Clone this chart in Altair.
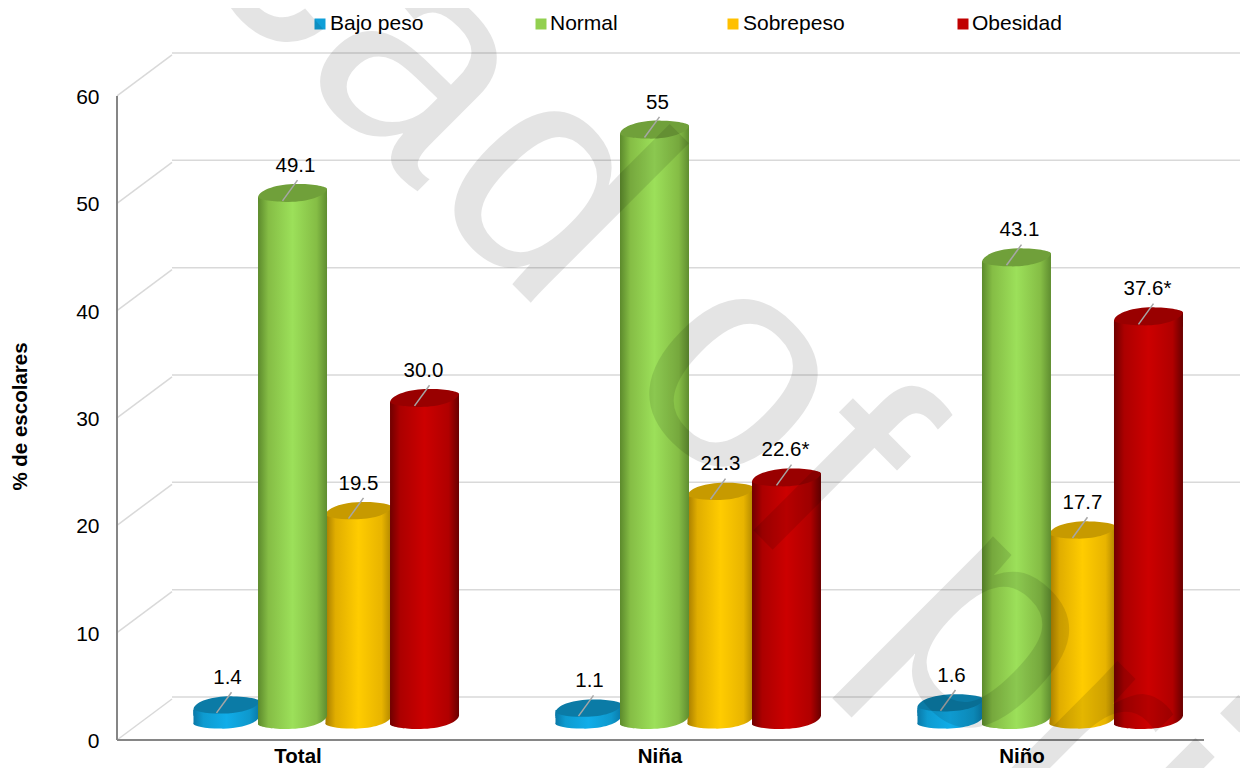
import altair as alt
import pandas as pd

groups = ["Total", "Niña", "Niño"]
series = ["Bajo peso", "Normal", "Sobrepeso", "Obesidad"]
values = {
    "Bajo peso": [1.4, 1.1, 1.6],
    "Normal": [49.1, 55.0, 43.1],
    "Sobrepeso": [19.5, 21.3, 17.7],
    "Obesidad": [30.0, 22.6, 37.6],
}
labels = {
    "Bajo peso": ["1.4", "1.1", "1.6"],
    "Normal": ["49.1", "55", "43.1"],
    "Sobrepeso": ["19.5", "21.3", "17.7"],
    "Obesidad": ["30.0", "22.6*", "37.6*"],
}
y_ticks = [0, 10, 20, 30, 40, 50, 60]
draw_order = ["Bajo peso", "Sobrepeso", "Normal", "Obesidad"]
widths = {"Bajo peso": 66, "Normal": 69, "Sobrepeso": 66, "Obesidad": 69}
label_dx = {"Bajo peso": 1, "Normal": 3, "Sobrepeso": 0, "Obesidad": -1}
shades = {
    "Bajo peso": (["#0a79a8", "#0e9bd0", "#10ade9", "#0e98cc", "#0a79a8"], "#0b7ba6", "#0f9fd8"),
    "Normal": (["#5c8a2c", "#85bd45", "#9ce05a", "#85bd45", "#5f8d30"], "#70a03a", "#92d050"),
    "Sobrepeso": (["#a67c00", "#e0ad00", "#ffcc00", "#e8b400", "#b08600"], "#c79a00", "#ffc000"),
    "Obesidad": (["#700000", "#ac0000", "#cc0000", "#b00000", "#680000"], "#990000", "#c00000"),
}
legend_x = {"Bajo peso": (197, 213), "Normal": (418, 433), "Sobrepeso": (610, 626), "Obesidad": (840, 855)}
watermark = [("c", 68, -93), ("a", 178, 17), ("d", 306, 142), ("o", 497, 327),
             ("f", 617, 458), ("p", 746, 585), ("r", 870, 709), ("i", 948, 786)]

rows = [
    {"grupo": g, "serie": s, "valor": values[s][i], "etiqueta": labels[s][i]}
    for s in series for i, g in enumerate(groups)
]
df = pd.DataFrame(rows)
ticks = pd.DataFrame({"t": y_ticks})

y_scale = alt.Scale(domain=[0, 64], nice=False)
y_axis = alt.Axis(values=y_ticks, title="% de escolares", grid=False, domain=False, ticks=False,
                  labelFontSize=21, labelColor="#000000", labelPadding=18, labelFont="Liberation Sans",
                  labelOffset=1.5,
                  titleFont="Liberation Sans", titleFontSize=20.5, titleFontWeight="bold", titleColor="#000000",
                  titleX=-87, titleY=363, titleAngle=270)
X = alt.X(
    "grupo:N", sort=groups,
    scale=alt.Scale(range=[0, 1141], paddingInner=0.2707, paddingOuter=0.2114),
    axis=alt.Axis(title=None, domain=False, ticks=False, labelAngle=0, labelOffset=-27.5,
                  labelFontSize=20.5, labelFontWeight="bold", labelColor="#000000",
                  labelPadding=6, labelFont="Liberation Sans"),
)
XO = alt.XOffset("serie:N", sort=series, scale=alt.Scale(domain=series, paddingInner=0, paddingOuter=0))


def Yf(field):
    return alt.Y(field, scale=y_scale, axis=y_axis)


Y = Yf("valor:Q")

ELLIPSE = "M-1,0.12 C-0.95,-0.12 -0.35,-0.28 0.2,-0.26 C0.65,-0.26 1,-0.18 1,-0.12 C0.95,0.12 0.35,0.28 -0.2,0.26 C-0.65,0.26 -1,0.18 -1,0.12 Z"
TOP_CAP = "M-1,0.12 L1,-0.12 L1,0.3 L-1,0.3 Z"
BOTTOM_CAP = "M-1,-0.3 L1,-0.3 L1,-0.12 L-1,0.12 Z"


def grad(colors):
    stops = [0, 0.15, 0.5, 0.85, 1]
    return alt.LinearGradient(
        gradient="linear", x1=0, x2=1, y1=0, y2=0,
        stops=[alt.GradientStop(offset=o, color=c) for o, c in zip(stops, colors)],
    )


layers = []
# back wall
layers.append(alt.Chart(ticks).mark_rule(color="#d9d9d9", strokeWidth=1.5, yOffset=-43, y2Offset=-43).encode(
    y=Yf("t:Q"), x=alt.value(55), x2=alt.value(1131)))
layers.append(alt.Chart(ticks).transform_calculate(t2="datum.t").mark_rule(color="#d9d9d9", strokeWidth=1.5, y2Offset=-41).encode(
    y=Yf("t:Q"), y2=alt.Y2("t2:Q"), x=alt.value(0), x2=alt.value(55)))
# front axes
layers.append(alt.Chart(pd.DataFrame({"t": [0]})).mark_rule(color="#868686", strokeWidth=2).encode(
    y=Yf("t:Q"), x=alt.value(0), x2=alt.value(1087)))
layers.append(alt.Chart(pd.DataFrame({"t": [60], "b": [0]})).mark_rule(color="#868686", strokeWidth=2).encode(
    y=Yf("t:Q"), y2="b:Q", x=alt.value(0)))

for s in draw_order:
    d = df[df.serie == s]
    colors, top, swatch = shades[s]
    w = widths[s]
    g = grad(colors)
    base = alt.Chart(d)
    zero = base.transform_calculate(cero="0")
    layers.append(zero.mark_point(shape=ELLIPSE, size=w * w, filled=True, fill=g, opacity=1, yOffset=-20, strokeWidth=0
                                  ).encode(x=X, xOffset=XO, y=Yf("cero:Q")))
    layers.append(zero.mark_point(shape=BOTTOM_CAP, size=w * w, filled=True, fill=g, opacity=1, yOffset=-20, strokeWidth=0
                                  ).encode(x=X, xOffset=XO, y=Yf("cero:Q")))
    layers.append(zero.mark_bar(size=w, fill=g, yOffset=-15, y2Offset=-24
                                ).encode(x=X, xOffset=XO, y=Y, y2=alt.Y2("cero:Q")))
    layers.append(base.mark_point(shape=TOP_CAP, size=w * w, filled=True, fill=g, opacity=1, yOffset=-20, strokeWidth=0
                                  ).encode(x=X, xOffset=XO, y=Y))
    layers.append(base.mark_point(shape=ELLIPSE, size=w * w, filled=True, fill=top, opacity=1, yOffset=-20, strokeWidth=0
                                  ).encode(x=X, xOffset=XO, y=Y))
    layers.append(base.mark_point(shape="M-0.29,0.23 L0.145,-0.37", size=69 * 69, filled=False, stroke="#a6a6a6",
                                  strokeWidth=1.5, opacity=1, yOffset=-20
                                  ).encode(x=X, xOffset=XO, y=Y))
    layers.append(base.mark_text(fontSize=20.5, font="Liberation Sans", color="#000000", dx=label_dx[s], dy=-27, yOffset=-20
                                 ).encode(x=X, xOffset=XO, y=Y, text="etiqueta:N"))

# legend
for s in series:
    sx, tx = legend_x[s]
    one = pd.DataFrame({"n": [s]})
    layers.append(alt.Chart(one).mark_square(size=121, color=shades[s][2], opacity=1).encode(
        x=alt.value(sx + 6), y=alt.value(-29)))
    layers.append(alt.Chart(one).mark_text(fontSize=21, font="Liberation Sans", color="#000000", align="left").encode(
        x=alt.value(tx), y=alt.value(-29), text="n:N"))

# watermark
for ch, wx, wy in watermark:
    layers.append(alt.Chart(pd.DataFrame({"c": [ch]})).mark_text(
        fontSize=310, font="Liberation Sans", color="#000000", opacity=0.1, angle=45,
        align="left", baseline="alphabetic"
    ).encode(x=alt.value(wx), y=alt.value(wy), text="c:N"))

chart = alt.layer(*layers).resolve_scale(x="shared", y="shared").properties(
    width=1123, height=687,
    padding={"left": 109, "top": 45, "right": 0, "bottom": 28},
    autosize=alt.AutoSizeParams(type="none"),
).configure_view(stroke=None)

chart.save("out.html", embed_options={"renderer": "svg", "actions": False})
